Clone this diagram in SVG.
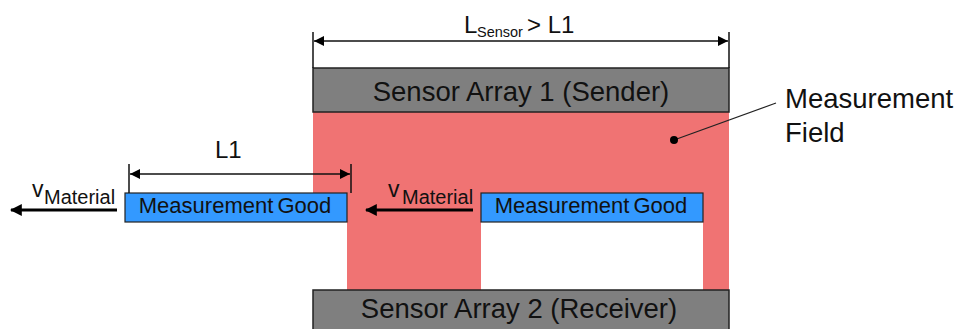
<svg xmlns="http://www.w3.org/2000/svg" width="962" height="329" viewBox="0 0 962 329">
<defs>
<style>
text{font-family:"Liberation Sans",Arial,sans-serif;fill:#111;}
.sensor{fill:#7f7f7f;stroke:#222;stroke-width:1.5;}
.good{fill:#3399ff;stroke:#222;stroke-width:1.2;}
.big{font-size:27.5px;}
.mg{font-size:22px;word-spacing:-2px;}
.dim{stroke:#111;stroke-width:1.5;fill:none;}
.thick{stroke:#000;stroke-width:3;fill:none;}
</style>
<marker id="ah" viewBox="0 0 10 10" refX="10" refY="5" markerWidth="10" markerHeight="10" markerUnits="userSpaceOnUse" orient="auto-start-reverse">
<path d="M0,0 L10,5 L0,10 Z" fill="#000"/>
</marker>
<marker id="ah2" viewBox="0 0 10 10" refX="9" refY="5" markerWidth="4" markerHeight="4" orient="auto-start-reverse">
<path d="M0,0 L10,5 L0,10 Z" fill="#000"/>
</marker>
</defs>

<g id="field">
<path d="M313,112 H729 V290 H703 V222 H481 V290 H347 V222 H313 Z" fill="#f07373"/>
<text class="big" x="785" y="108">Measurement</text>
<text class="big" x="785" y="142">Field</text>
</g>

<g id="sensor1">
<rect class="sensor" x="313" y="68" width="416" height="44"/>
<text class="big" x="521" y="101" text-anchor="middle">Sensor Array 1 (Sender)</text>
</g>

<g id="sensor2">
<rect class="sensor" x="313" y="290" width="416" height="45"/>
<text class="big" x="519" y="318" text-anchor="middle">Sensor Array 2 (Receiver)</text>
</g>

<g id="good1">
<rect class="good" x="125" y="193" width="222" height="29"/>
<text class="mg" x="235" y="213" text-anchor="middle">Measurement Good</text>
</g>

<g id="good2">
<rect class="good" x="481" y="193" width="222" height="29"/>
<text class="mg" x="591" y="213" text-anchor="middle">Measurement Good</text>
</g>

<g id="connectors">
<line class="dim" x1="313" y1="32" x2="313" y2="68"/>
<line class="dim" x1="729" y1="32" x2="729" y2="68"/>
<line class="dim" x1="314" y1="41" x2="728" y2="41" marker-start="url(#ah)" marker-end="url(#ah)"/>
<line class="dim" x1="129" y1="164" x2="129" y2="193"/>
<line class="dim" x1="351" y1="164" x2="351" y2="193"/>
<line class="dim" x1="130" y1="174" x2="350" y2="174" marker-start="url(#ah)" marker-end="url(#ah)"/>
<line class="thick" x1="117" y1="210" x2="11" y2="210" marker-end="url(#ah2)"/>
<line class="thick" x1="473" y1="210" x2="366" y2="210" marker-end="url(#ah2)"/>
<line x1="776" y1="103" x2="674" y2="140" stroke="#222" stroke-width="1.2"/>
<circle cx="674" cy="140" r="4" fill="#000"/>
</g>

<g id="labels">
<text x="464" y="33" font-size="24">L</text>
<text x="477" y="37" font-size="14.5">Sensor</text>
<text x="527" y="33" font-size="24">&gt; L1</text>
<text x="215" y="158" font-size="24">L1</text>
<text x="32" y="197" font-size="23">v</text>
<text x="44" y="204" font-size="20">Material</text>
<text x="388" y="197" font-size="23">v</text>
<text x="402" y="204" font-size="20">Material</text>
</g>
</svg>
